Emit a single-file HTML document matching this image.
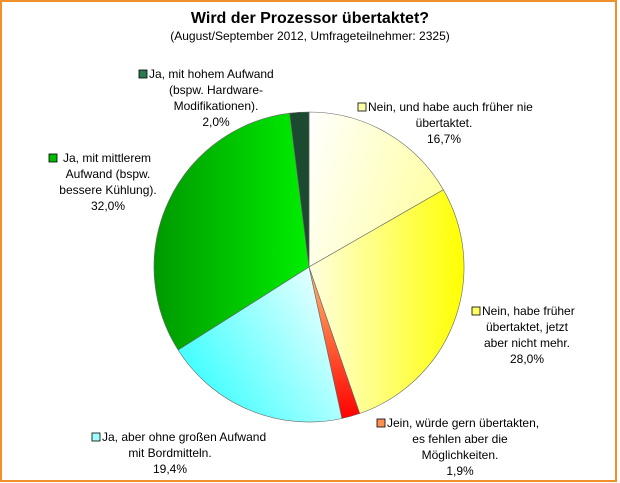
<!DOCTYPE html>
<html><head><meta charset="utf-8"><style>
html,body{margin:0;padding:0;background:#fff;}
svg{display:block;font-family:"Liberation Sans",Arial,sans-serif;}
</style></head><body>
<svg width="620" height="483" viewBox="0 0 620 483" xmlns="http://www.w3.org/2000/svg">
<defs>
<linearGradient id="g1" x1="0" y1="0" x2="1" y2="0.3"><stop offset="0" stop-color="#ffffff"/><stop offset="1" stop-color="#ffffa8"/></linearGradient>
<linearGradient id="g2" x1="0" y1="0" x2="1" y2="0"><stop offset="0" stop-color="#ffffe0"/><stop offset="1" stop-color="#ffff00"/></linearGradient>
<linearGradient id="g3" x1="0" y1="0" x2="0" y2="1"><stop offset="0" stop-color="#ffc070"/><stop offset="1" stop-color="#ff0000"/></linearGradient>
<linearGradient id="g4" x1="1" y1="0" x2="0" y2="0.6"><stop offset="0" stop-color="#ffffff"/><stop offset="1" stop-color="#40ffff"/></linearGradient>
<linearGradient id="g5" x1="1" y1="0.5" x2="0" y2="0.5"><stop offset="0" stop-color="#00ee00"/><stop offset="1" stop-color="#009900"/></linearGradient>
</defs>
<rect x="1" y="1" width="615" height="480" fill="#fff" stroke="#f0902a" stroke-width="2"/>
<text x="310" y="23" text-anchor="middle" font-size="16" font-weight="bold">Wird der Prozessor übertaktet?</text>
<text x="310" y="40" text-anchor="middle" font-size="12">(August/September 2012, Umfrageteilnehmer: 2325)</text>
<g stroke="#666" stroke-width="0.6">
<path d="M309,267 L309,112 A155,155 0 0 1 443.4,189.8 Z" fill="url(#g1)"/>
<path d="M309,267 L443.4,189.8 A155,155 0 0 1 359.7,413.5 Z" fill="url(#g2)"/>
<path d="M309,267 L359.7,413.5 A155,155 0 0 1 341.9,418.5 Z" fill="url(#g3)"/>
<path d="M309,267 L341.9,418.5 A155,155 0 0 1 178.1,350 Z" fill="url(#g4)"/>
<path d="M309,267 L178.1,350 A155,155 0 0 1 289.6,113.2 Z" fill="url(#g5)"/>
<path d="M309,267 L289.6,113.2 A155,155 0 0 1 309,112 Z" fill="#1c4a30"/>
</g>
<g font-size="12" text-anchor="middle" fill="#000">
<rect x="139" y="70" width="8" height="8" fill="#2a7a50" stroke="#000" stroke-width="0.8"/>
<text x="149" y="78" text-anchor="start">Ja, mit hohem Aufwand</text>
<text x="216" y="94">(bspw. Hardware-</text>
<text x="216" y="110">Modifikationen).</text>
<text x="216" y="126">2,0%</text>
<rect x="358" y="103" width="8" height="8" fill="#ffffa8" stroke="#000" stroke-width="0.8"/>
<text x="368" y="111" text-anchor="start">Nein, und habe auch früher nie</text>
<text x="444" y="127">übertaktet.</text>
<text x="444" y="143">16,7%</text>
<rect x="49" y="154" width="8" height="8" fill="#00bb00" stroke="#000" stroke-width="0.8"/>
<text x="63" y="162" text-anchor="start">Ja, mit mittlerem</text>
<text x="108" y="178">Aufwand (bspw.</text>
<text x="108" y="194">bessere Kühlung).</text>
<text x="108" y="210">32,0%</text>
<rect x="472" y="307" width="8" height="8" fill="#ffff60" stroke="#000" stroke-width="0.8"/>
<text x="482" y="315" text-anchor="start">Nein, habe früher</text>
<text x="527" y="331">übertaktet, jetzt</text>
<text x="527" y="347">aber nicht mehr.</text>
<text x="527" y="363">28,0%</text>
<rect x="92" y="433" width="8" height="8" fill="#a0ffff" stroke="#000" stroke-width="0.8"/>
<text x="102" y="441" text-anchor="start">Ja, aber ohne großen Aufwand</text>
<text x="170" y="457">mit Bordmitteln.</text>
<text x="170" y="473">19,4%</text>
<rect x="377" y="419" width="8" height="8" fill="#ff9050" stroke="#000" stroke-width="0.8"/>
<text x="387" y="427" text-anchor="start">Jein, würde gern übertakten,</text>
<text x="460" y="443">es fehlen aber die</text>
<text x="460" y="459">Möglichkeiten.</text>
<text x="460" y="475">1,9%</text>
</g>
</svg>
</body></html>
